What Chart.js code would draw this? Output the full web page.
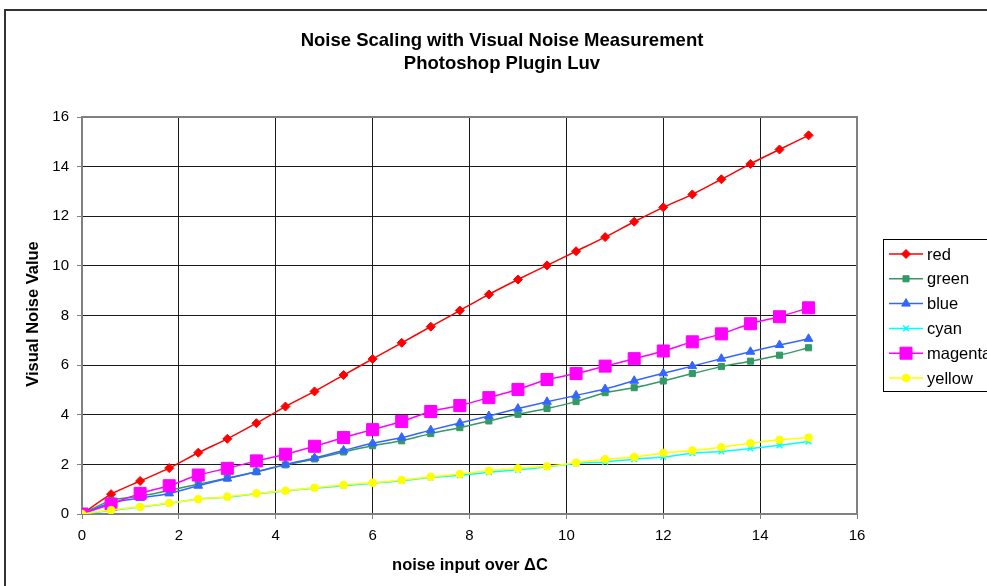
<!DOCTYPE html>
<html>
<head>
<meta charset="utf-8">
<script src="https://cdn.jsdelivr.net/npm/chart.js@4/dist/chart.umd.min.js"></script>
<style>
  html, body { margin: 0; padding: 0; background: #fff; }
  #wrap { width: 987px; height: 586px; position: relative; }
</style>
</head>
<body>
<div id="wrap"><canvas id="c" width="987" height="586"></canvas></div>
<script>
// Noise input levels (over ΔC)
const noiseInput = [0, 0.6, 1.2, 1.8, 2.4, 3.0, 3.6, 4.2, 4.8, 5.4, 6.0, 6.6, 7.2, 7.8,
  8.4, 9.0, 9.6, 10.2, 10.8, 11.4, 12.0, 12.6, 13.2, 13.8, 14.4, 15.0];

// Visual noise values per patch colour
const redValues = [0, 0.80, 1.33, 1.85, 2.47, 3.03, 3.66, 4.33, 4.94, 5.60, 6.25, 6.90, 7.55, 8.20,
  8.85, 9.45, 10.02, 10.59, 11.16, 11.78, 12.36, 12.88, 13.49, 14.11, 14.69, 15.26];
const greenValues = [0, 0.55, 0.72, 0.95, 1.20, 1.45, 1.70, 1.98, 2.22, 2.50, 2.75, 2.95, 3.24, 3.48,
  3.75, 4.02, 4.25, 4.53, 4.89, 5.09, 5.36, 5.66, 5.94, 6.16, 6.40, 6.70];
const blueValues = [0, 0.45, 0.64, 0.83, 1.14, 1.43, 1.70, 2.00, 2.26, 2.56, 2.85, 3.08, 3.38, 3.67,
  3.95, 4.25, 4.52, 4.78, 5.04, 5.37, 5.67, 5.96, 6.26, 6.54, 6.81, 7.06];
const cyanValues = [0, 0.14, 0.28, 0.43, 0.60, 0.68, 0.82, 0.93, 1.04, 1.14, 1.24, 1.34, 1.47, 1.56,
  1.68, 1.78, 1.90, 2.04, 2.10, 2.21, 2.30, 2.45, 2.52, 2.64, 2.77, 2.92];
const magentaValues = [0, 0.40, 0.83, 1.14, 1.57, 1.84, 2.14, 2.41, 2.73, 3.08, 3.40, 3.73, 4.13, 4.37,
  4.69, 5.02, 5.42, 5.66, 5.96, 6.26, 6.57, 6.94, 7.26, 7.67, 7.95, 8.31];
const yellowValues = [0, 0.16, 0.29, 0.44, 0.60, 0.70, 0.83, 0.94, 1.06, 1.17, 1.26, 1.37, 1.50, 1.61,
  1.74, 1.84, 1.92, 2.07, 2.21, 2.30, 2.46, 2.56, 2.69, 2.85, 2.99, 3.08];

const seriesNames = ['red', 'green', 'blue', 'cyan', 'magenta', 'yellow'];
const titleLines = ['Noise Scaling with Visual Noise Measurement', 'Photoshop Plugin Luv'];
const xTitle = 'noise input over \u0394C';
const yTitle = 'Visual Noise Value';

const FONT = '"Liberation Sans", Arial, Helvetica, sans-serif';

function pts(values) {
  return noiseInput.map((x, i) => ({ x: x, y: values[i] }));
}

const styles = [
  { color: '#ff0000', style: 'rectRot', r: 4.5, bw: 1 },
  { color: '#339966', style: 'rect', r: 4.3, bw: 1 },
  { color: '#3366ff', style: 'triangle', r: 5, bw: 1 },
  { color: '#00ffff', style: 'crossRot', r: 4, bw: 1.5 },
  { color: '#ff00ff', style: 'rect', r: 8.5, bw: 1 },
  { color: '#ffff00', style: 'circle', r: 3.8, bw: 1 }
];
const allValues = [redValues, greenValues, blueValues, cyanValues, magentaValues, yellowValues];

const datasets = seriesNames.map((name, i) => ({
  label: name,
  data: pts(allValues[i]),
  borderColor: styles[i].color,
  backgroundColor: styles[i].color,
  borderWidth: 1.5,
  pointStyle: styles[i].style,
  pointRadius: styles[i].r,
  pointHoverRadius: styles[i].r,
  pointBorderWidth: styles[i].bw,
  pointBorderColor: styles[i].color,
  pointBackgroundColor: styles[i].color,
  tension: 0.25,
  fill: false,
  order: seriesNames.length - i
}));

// Frame, titles and the boxed legend on the right
const decor = {
  id: 'decor',
  beforeDatasetsDraw(chart) {
    const { ctx, chartArea: a } = chart;
    ctx.save();
    ctx.strokeStyle = '#808080';
    ctx.lineWidth = 2;
    ctx.strokeRect(a.left, a.top, a.right - a.left, a.bottom - a.top);
    ctx.restore();
  },
  afterDraw(chart) {
    const { ctx } = chart;
    ctx.save();
    // outer frame
    ctx.strokeStyle = '#333333';
    ctx.lineWidth = 2;
    ctx.strokeRect(5, 10, 1100, 700);

    // chart title
    ctx.fillStyle = '#000';
    ctx.textAlign = 'center';
    ctx.textBaseline = 'middle';
    ctx.font = 'bold 18.5px ' + FONT;
    ctx.fillText(titleLines[0], 502, 41);
    ctx.fillText(titleLines[1], 502, 64);

    // axis titles
    ctx.font = 'bold 16.5px ' + FONT;
    ctx.fillText(xTitle, 470, 565);
    ctx.save();
    ctx.translate(33, 314);
    ctx.rotate(-Math.PI / 2);
    ctx.fillText(yTitle, 0, 0);
    ctx.restore();

    // legend
    ctx.fillStyle = '#fff';
    ctx.fillRect(883, 239, 200, 152);
    ctx.strokeStyle = '#000';
    ctx.lineWidth = 1;
    ctx.strokeRect(883.5, 239.5, 200, 152);
    ctx.font = '16.5px ' + FONT;
    ctx.textAlign = 'left';
    chart.data.datasets.forEach((ds, i) => {
      const y = 254 + i * 24.8;
      ctx.strokeStyle = ds.borderColor;
      ctx.lineWidth = 1.5;
      ctx.beginPath();
      ctx.moveTo(889, y);
      ctx.lineTo(923, y);
      ctx.stroke();
      ctx.fillStyle = ds.backgroundColor;
      ctx.strokeStyle = ds.borderColor;
      ctx.lineWidth = ds.pointBorderWidth;
      Chart.helpers.drawPoint(ctx, {
        pointStyle: ds.pointStyle,
        radius: ds.pointRadius,
        borderWidth: ds.pointBorderWidth,
        rotation: 0
      }, 906, y);
      ctx.fillStyle = '#000';
      ctx.fillText(ds.label, 927, y + 1);
    });
    ctx.restore();
  }
};

new Chart(document.getElementById('c'), {
  type: 'line',
  data: { datasets: datasets },
  plugins: [decor],
  options: {
    responsive: false,
    animation: false,
    events: [],
    layout: { padding: { left: 42, right: 130, top: 117, bottom: 42 } },
    plugins: {
      legend: { display: false },
      title: { display: false },
      tooltip: { enabled: false }
    },
    scales: {
      x: {
        type: 'linear',
        min: 0,
        max: 16,
        ticks: { stepSize: 2, color: '#000', font: { family: FONT, size: 15 }, padding: 8, maxRotation: 0 },
        grid: { color: '#1a1a1a', lineWidth: 1, tickLength: 5, tickColor: '#808080' },
        border: { display: true, color: '#808080', width: 2 },
        afterFit(scale) { scale.height = 30; }
      },
      y: {
        type: 'linear',
        min: 0,
        max: 16,
        ticks: { stepSize: 2, color: '#000', font: { family: FONT, size: 15 }, padding: 8 },
        grid: { color: '#1a1a1a', lineWidth: 1, tickLength: 5, tickColor: '#808080' },
        border: { display: true, color: '#808080', width: 2 },
        afterFit(scale) { scale.width = 40; }
      }
    }
  }
});
</script>
</body>
</html>
